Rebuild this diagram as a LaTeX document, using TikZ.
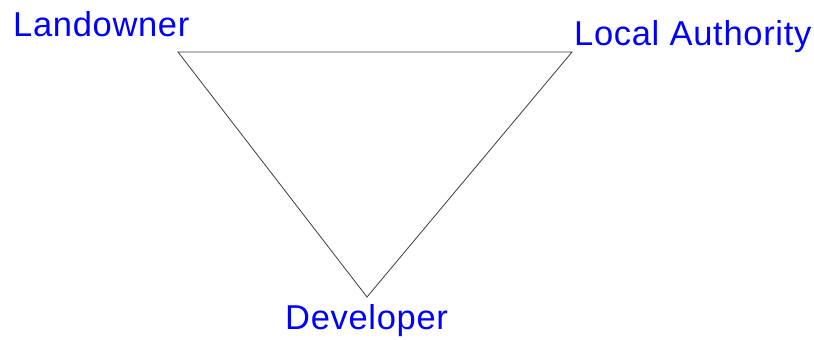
\documentclass[tikz,border=0pt]{standalone}
\usepackage{fontspec}
\setmainfont{Liberation Sans}[LetterSpace=2]
\definecolor{lblblue}{RGB}{0,0,255}
\definecolor{edgegray}{RGB}{60,60,60}
\begin{document}
\begin{tikzpicture}[x=1pt,y=-1pt,
  lbl/.style={text=lblblue,font=\fontsize{34.5}{40}\selectfont,inner sep=0pt,anchor=base west},
  edge/.style={draw=edgegray,line width=0.8pt}]
\useasboundingbox[fill=white] (0,0) rectangle (814,340);
\coordinate (LO) at (178,52);
\coordinate (LA) at (572,52);
\coordinate (DE) at (367,297);
\draw[edge] (LO) -- (LA) -- (DE) -- cycle;
\node[lbl] (lo) at (13,36) {Landowner};
\node[lbl] (la) at (574,45) {Local Authority};
\node[lbl] (de) at (285,329) {Developer};
\end{tikzpicture}
\end{document}
